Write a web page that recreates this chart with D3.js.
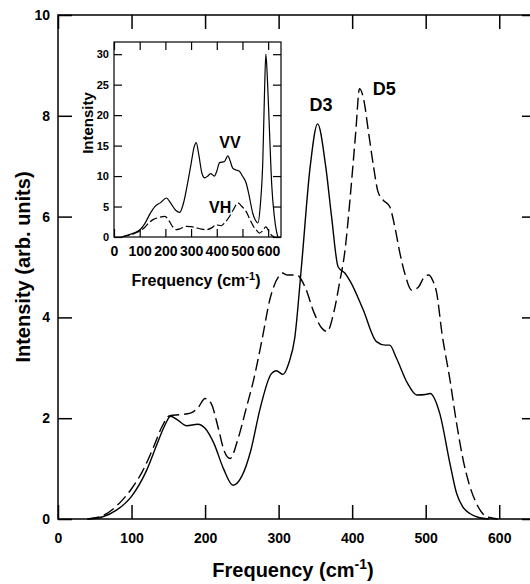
<!DOCTYPE html>
<html>
<head>
<meta charset="utf-8">
<script src="https://cdn.jsdelivr.net/npm/d3@7"></script>
<style>
  body { margin: 0; background: #fff; }
  svg text { font-family: "Liberation Sans", Arial, Helvetica, sans-serif; font-weight: bold; fill: #000; }
</style>
</head>
<body>
<svg width="530" height="584"></svg>
<script>
// Main plot: D3 (solid) and D5 (dashed) spectra
var d3Freq = [40, 60, 80, 100, 120, 135, 145, 153, 162, 175, 190, 200, 212, 225, 238, 250, 262, 275, 290, 297, 306, 314, 322, 331, 343, 353, 364, 372, 381, 390, 398, 415, 433, 445, 451, 460, 475, 488, 500, 506, 519, 533, 542, 550, 560, 572, 586];
var d3Int  = [0, 0.04, 0.18, 0.45, 0.95, 1.5, 1.85, 2.04, 1.97, 1.85, 1.88, 1.8, 1.5, 1.0, 0.67, 0.85, 1.35, 2.2, 2.88, 2.94, 2.87, 3.1, 3.6, 5.0, 7.0, 7.84, 7.0, 6.0, 5.0, 4.88, 4.7, 4.15, 3.52, 3.45, 3.45, 3.2, 2.7, 2.46, 2.47, 2.49, 2.1, 1.1, 0.51, 0.25, 0.11, 0.03, 0];

var d5Freq = [40, 60, 75, 89, 100, 115, 130, 142, 152, 166, 180, 190, 200, 208, 218, 226, 234, 245, 256, 266, 278, 288, 300, 305, 312, 325, 336, 348, 358, 366, 375, 383, 390, 397, 401, 405, 410, 416, 422, 429, 435, 442, 451, 458, 465, 472, 481, 490, 498, 504, 509, 515, 522, 533, 542, 551, 560, 569, 578, 587, 598];
var d5Int  = [0, 0.06, 0.2, 0.4, 0.6, 0.95, 1.43, 1.85, 2.05, 2.07, 2.1, 2.2, 2.39, 2.3, 1.8, 1.35, 1.2, 1.6, 2.2, 2.76, 3.6, 4.35, 4.81, 4.88, 4.84, 4.84, 4.6, 4.1, 3.8, 3.72, 4.1, 4.7, 5.3, 6.33, 7.0, 7.7, 8.54, 8.3, 7.7, 7.0, 6.5, 6.33, 6.2, 5.8, 5.27, 4.85, 4.54, 4.6, 4.8, 4.84, 4.75, 4.48, 3.7, 2.76, 1.9, 1.17, 0.65, 0.31, 0.1, 0.03, 0];

// Inset: VV (solid) and VH (dashed)
var vvFreq = [30, 60, 80, 101, 120, 140, 159, 180, 204, 220, 240, 256, 270, 285, 300, 312, 320, 330, 342, 353, 365, 376, 391, 400, 411, 430, 443, 452, 462, 475, 488, 500, 514, 525, 540, 550, 560, 570, 579, 586, 591, 597, 605, 614, 624, 632, 638];
var vvInt  = [0, 0.4, 0.7, 1.2, 2.2, 3.8, 5.0, 5.6, 6.4, 5.6, 4.4, 4.05, 5.5, 8.5, 12, 14.8, 15.5, 13.5, 10.5, 9.7, 10.0, 10.4, 10.0, 10.8, 12.2, 12.4, 13.3, 12.5, 11.3, 11.0, 10.8, 10.0, 8.9, 7.0, 3.9, 2.8, 2.3, 5.5, 12.2, 24, 30, 26, 17.6, 8.5, 3.4, 1.0, 0];

var vhFreq = [30, 60, 80, 101, 120, 135, 152, 175, 198, 215, 230, 243, 260, 281, 300, 320, 340, 359, 380, 398, 417, 430, 450, 466, 482, 498, 514, 530, 545, 553, 566, 578, 591, 605, 615, 625];
var vhInt  = [0, 0.3, 0.6, 1.0, 1.6, 2.3, 2.85, 3.2, 3.4, 2.6, 1.6, 1.2, 1.4, 1.75, 1.7, 1.5, 1.3, 1.2, 1.5, 2.0, 1.85, 2.3, 3.4, 4.6, 5.6, 5.0, 4.2, 2.8, 1.6, 1.2, 0.65, 1.0, 1.65, 0.75, 0.2, 0];

var mainXTicks = [0, 100, 200, 300, 400, 500, 600];
var mainYTicks = [0, 2, 4, 6, 8, 10];
var insetXTicks = [0, 100, 200, 300, 400, 500, 600];
var insetYTicks = [0, 5, 10, 15, 20, 25, 30];

function pairs(xs, ys) { return xs.map(function(f, i){ return [f, ys[i]] }) }

var svg = d3.select("svg");

// ---- main plot ----
var m = {left: 58, top: 15, width: 478, height: 504};
var x = d3.scaleLinear().domain([0, 650]).range([0, m.width]);
var y = d3.scaleLinear().domain([0, 10]).range([m.height, 0]);

var g = svg.append("g").attr("transform", "translate(" + m.left + "," + m.top + ")");

var line = d3.line()
    .x(function(d){ return x(d[0]) })
    .y(function(d){ return y(d[1]) })
    .curve(d3.curveMonotoneX);

g.append("path")
    .attr("d", line(pairs(d5Freq, d5Int)))
    .attr("fill", "none").attr("stroke", "#000").attr("stroke-width", 1.4)
    .attr("stroke-dasharray", "12,5");

g.append("path")
    .attr("d", line(pairs(d3Freq, d3Int)))
    .attr("fill", "none").attr("stroke", "#000").attr("stroke-width", 1.4);

function styleAxis(sel, fs) {
  sel.select(".domain").remove();
  sel.selectAll("line").attr("stroke", "#000").attr("stroke-width", 1.5);
  sel.selectAll("text").style("font-size", fs + "px").attr("font-family", null);
}

g.append("g").attr("transform", "translate(0," + m.height + ")")
  .call(d3.axisBottom(x).tickValues(mainXTicks).tickSizeInner(-14).tickSizeOuter(0).tickPadding(14))
  .call(styleAxis, 14);
g.append("g")
  .call(d3.axisTop(x).tickValues(mainXTicks).tickSizeInner(-14).tickSizeOuter(0).tickFormat(""))
  .call(styleAxis, 14);
g.append("g")
  .call(d3.axisLeft(y).tickValues(mainYTicks).tickSizeInner(-14).tickSizeOuter(0).tickPadding(8))
  .call(styleAxis, 14);
g.append("g").attr("transform", "translate(" + m.width + ",0)")
  .call(d3.axisRight(y).tickValues(mainYTicks).tickSizeInner(-14).tickSizeOuter(0).tickFormat(""))
  .call(styleAxis, 14);

g.append("rect").attr("width", m.width).attr("height", m.height)
  .attr("fill", "none").attr("stroke", "#000").attr("stroke-width", 1.5);

g.append("text").attr("x", x(342)).attr("y", 96).style("font-size", "18px").text("D3");
g.append("text").attr("x", x(428)).attr("y", 80).style("font-size", "18px").text("D5");

// axis titles
var xt = svg.append("text").attr("x", 293).attr("y", 577).attr("text-anchor", "middle").style("font-size", "20px");
xt.append("tspan").text("Frequency (cm");
xt.append("tspan").attr("dy", "-8").style("font-size", "14px").text("-1");
xt.append("tspan").attr("dy", "8").text(")");

svg.append("text").attr("transform", "translate(30,267) rotate(-90)")
  .attr("text-anchor", "middle").style("font-size", "20px").text("Intensity (arb. units)");

// ---- inset ----
var n = {left: 114, top: 42, width: 167, height: 195};
var xi = d3.scaleLinear().domain([0, 650]).range([0, n.width]);
var yi = d3.scaleLinear().domain([0, 32]).range([n.height, 0]);

var gi = svg.append("g").attr("transform", "translate(" + n.left + "," + n.top + ")");
gi.append("rect").attr("width", n.width).attr("height", n.height).attr("fill", "#fff");

var lineI = d3.line()
    .x(function(d){ return xi(d[0]) })
    .y(function(d){ return yi(d[1]) })
    .curve(d3.curveMonotoneX);

gi.append("path")
    .attr("d", lineI(pairs(vhFreq, vhInt)))
    .attr("fill", "none").attr("stroke", "#000").attr("stroke-width", 1.2)
    .attr("stroke-dasharray", "8,3");
gi.append("path")
    .attr("d", lineI(pairs(vvFreq, vvInt)))
    .attr("fill", "none").attr("stroke", "#000").attr("stroke-width", 1.2);

gi.append("g").attr("transform", "translate(0," + n.height + ")")
  .call(d3.axisBottom(xi).tickValues(insetXTicks).tickSizeInner(-8).tickSizeOuter(0).tickPadding(9))
  .call(styleAxis, 14);
gi.append("g")
  .call(d3.axisTop(xi).tickValues(insetXTicks).tickSizeInner(-8).tickSizeOuter(0).tickFormat(""))
  .call(styleAxis, 14);
gi.append("g")
  .call(d3.axisLeft(yi).tickValues(insetYTicks).tickSizeInner(-8).tickSizeOuter(0).tickPadding(5))
  .call(styleAxis, 11);
gi.append("g").attr("transform", "translate(" + n.width + ",0)")
  .call(d3.axisRight(yi).tickValues(insetYTicks).tickSizeInner(-8).tickSizeOuter(0).tickFormat(""))
  .call(styleAxis, 11);
gi.selectAll("line").attr("stroke-width", 1.2);

gi.append("rect").attr("width", n.width).attr("height", n.height)
  .attr("fill", "none").attr("stroke", "#000").attr("stroke-width", 1.2);

gi.append("text").attr("x", xi(410)).attr("y", 106).style("font-size", "16px").text("VV");
gi.append("text").attr("x", xi(370)).attr("y", 171).style("font-size", "16px").text("VH");

var xit = svg.append("text").attr("x", 196).attr("y", 286).attr("text-anchor", "middle").style("font-size", "16px");
xit.append("tspan").text("Frequency (cm");
xit.append("tspan").attr("dy", "-6").style("font-size", "11px").text("-1");
xit.append("tspan").attr("dy", "6").text(")");

svg.append("text").attr("transform", "translate(93,123) rotate(-90)")
  .attr("text-anchor", "middle").style("font-size", "15px").text("Intensity");
</script>
</body>
</html>
